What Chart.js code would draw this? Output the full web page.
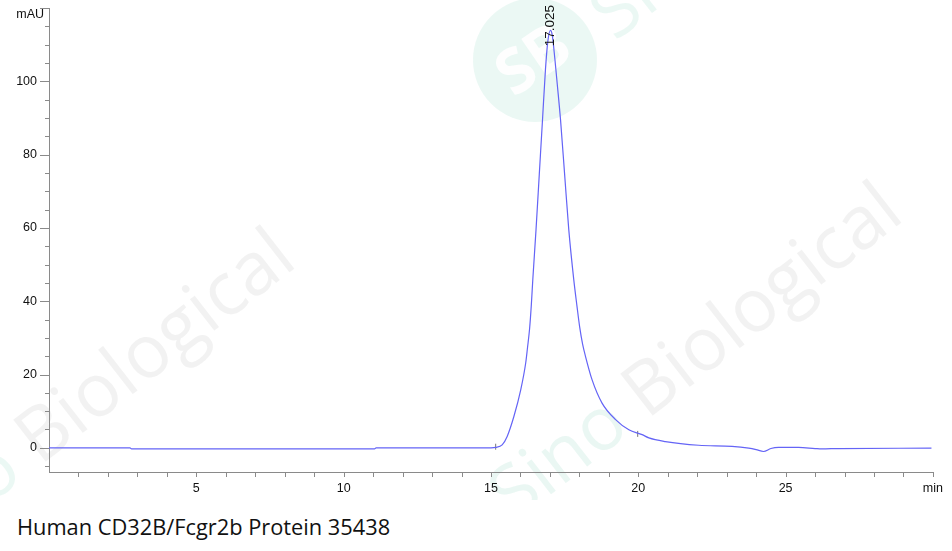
<!DOCTYPE html>
<html>
<head>
<meta charset="utf-8">
<script src="https://cdn.jsdelivr.net/npm/chart.js@4/dist/chart.umd.min.js"></script>
<style>
  html, body { margin: 0; padding: 0; background: #fff; }
  #wrap { position: relative; width: 952px; height: 500px; }
  #title { position: absolute; left: 17px; top: 512px; font-family: "Open Sans", "Noto Sans", sans-serif; font-size: 21.8px; line-height: 30px; color: #111; white-space: nowrap; }
</style>
</head>
<body>
<div id="wrap"><canvas id="c" width="952" height="500"></canvas></div>
<div id="title">Human CD32B/Fcgr2b Protein 35438</div>
<script>
// Retention time (min)
const times = [0, 2.75, 2.8, 11.05, 11.1, 15.0, 15.16, 15.38, 15.55, 15.78, 16.01, 16.18, 16.24, 16.31, 16.37, 16.42, 16.53, 16.64, 16.75, 16.85, 16.93, 17.02, 17.08, 17.17, 17.25, 17.36, 17.50, 17.64, 17.81, 17.92, 18.01, 18.11, 18.21, 18.43, 18.77, 19.23, 19.68, 20.13, 20.36, 20.92, 22.05, 23.18, 23.75, 24.0, 24.25, 24.5, 24.76, 25.44, 26.0, 26.23, 26.8, 29.95];
// Absorbance (mAU)
const absorbance = [0, 0, -0.3, -0.3, 0, 0, 0.1, 0.8, 3.1, 8.6, 15.8, 23.2, 27.3, 32.4, 39.0, 45.9, 59.6, 74.6, 89.6, 103.3, 110.9, 113.9, 112.6, 106, 99.2, 89.6, 74.6, 59.6, 45.9, 38.6, 33.0, 28.3, 24.9, 18.6, 12.2, 7.7, 4.9, 3.6, 2.7, 1.7, 0.7, 0.4, -0.1, -0.5, -1.0, -0.2, 0.1, 0.1, -0.2, -0.3, -0.2, -0.1];
// Integration markers
const markerTimes = [15.16, 19.98];
const markerValues = [0.3, 3.8];
// Peak annotation
const peakTime = 17.025;
const peakValue = 113.9;
const peakLabel = "17.025";
// Axis labels
const yLabelValues = [0, 20, 40, 60, 80, 100];
const xLabelValues = [5, 10, 15, 20, 25];
const yUnit = "mAU";
const xUnit = "min";

const axisColor = "#8a8a8a";
const labelFont = { family: "Liberation Sans, Arial, sans-serif", size: 12.5 };

const watermark = {
  id: "watermark",
  beforeDraw(chart) {
    const ctx = chart.ctx;
    ctx.save();
    // SB logo circle
    ctx.fillStyle = "rgba(222,243,236,0.6)";
    ctx.beginPath(); ctx.arc(535, 60, 62, 0, Math.PI * 2); ctx.fill();
    ctx.save();
    ctx.translate(535, 62); ctx.rotate(-0.6);
    ctx.fillStyle = "rgba(255,255,255,0.95)";
    ctx.font = "bold 62px 'Open Sans', sans-serif";
    ctx.textAlign = "center"; ctx.textBaseline = "middle";
    ctx.fillText("SB", 0, 0);
    ctx.restore();
    ctx.font = "74px 'Open Sans', sans-serif";
    ctx.textBaseline = "alphabetic";
    // Left watermark text
    ctx.save();
    ctx.translate(40, 466); ctx.rotate(-0.66);
    ctx.fillStyle = "rgba(222,243,236,0.6)";
    ctx.textAlign = "right";
    ctx.fillText("Sino ", 0, 0);
    ctx.textAlign = "left";
    ctx.fillStyle = "rgba(234,234,234,0.6)";
    ctx.fillText("Biological", 0, 0);
    ctx.restore();
    // Right watermark text
    ctx.save();
    ctx.translate(647, 420); ctx.rotate(-0.66);
    ctx.fillStyle = "rgba(222,243,236,0.65)";
    ctx.textAlign = "right";
    ctx.fillText("Sino ", 0, 0);
    ctx.textAlign = "left";
    ctx.fillStyle = "rgba(234,234,234,0.6)";
    ctx.fillText("Biological", 0, 0);
    ctx.restore();
    // Top right partial
    ctx.save();
    ctx.translate(615, 42); ctx.rotate(-0.66);
    ctx.fillStyle = "rgba(222,243,236,0.6)";
    ctx.fillText("Si", 0, 0);
    ctx.restore();
    ctx.restore();
  }
};

const extras = {
  id: "extras",
  afterDraw(chart) {
    const ctx = chart.ctx;
    const xs = chart.scales.x, ys = chart.scales.y;
    const area = chart.chartArea;
    ctx.save();
    ctx.strokeStyle = axisColor; ctx.lineWidth = 1;
    // y ticks
    ys.ticks.forEach(t => {
      const major = yLabelValues.includes(t.value) || t.value === 120;
      const len = major ? 9 : 4;
      const py = Math.round(ys.getPixelForValue(t.value)) + 0.5;
      ctx.beginPath(); ctx.moveTo(area.left - len, py); ctx.lineTo(area.left, py); ctx.stroke();
    });
    // x ticks
    xs.ticks.forEach(t => {
      if (t.value === 0) return;
      const px = Math.round(xs.getPixelForValue(t.value)) + 0.5;
      ctx.beginPath(); ctx.moveTo(px, area.bottom); ctx.lineTo(px, area.bottom + 5); ctx.stroke();
    });
    // unit label
    ctx.fillStyle = "#111";
    ctx.font = "12.5px Liberation Sans, Arial, sans-serif";
    ctx.textAlign = "right"; ctx.textBaseline = "middle";
    ctx.fillText(yUnit, area.left - 5, area.top + 7);
    // peak label
    const px = xs.getPixelForValue(peakTime);
    const py = ys.getPixelForValue(peakValue);
    ctx.save();
    ctx.font = "13.5px Liberation Sans, Arial, sans-serif";
    ctx.translate(px, py + 16);
    ctx.rotate(-Math.PI / 2);
    ctx.textAlign = "left"; ctx.textBaseline = "middle";
    ctx.fillStyle = "#111";
    ctx.fillText(peakLabel, 0, 0);
    ctx.restore();
    ctx.restore();
  }
};

new Chart(document.getElementById("c"), {
  type: "scatter",
  data: {
    datasets: [
      {
        data: times.map((t, i) => ({ x: t, y: absorbance[i] })),
        showLine: true,
        borderColor: "#6464f6",
        borderWidth: 1.2,
        pointRadius: 0,
        cubicInterpolationMode: "monotone",
        fill: false
      },
      {
        data: markerTimes.map((t, i) => ({ x: t, y: markerValues[i] })),
        showLine: false,
        pointStyle: "line",
        rotation: 90,
        pointRadius: 3,
        borderColor: "#777",
        borderWidth: 1
      }
    ]
  },
  options: {
    responsive: false,
    animation: false,
    events: [],
    layout: { padding: { left: 0, right: 19, top: 8, bottom: 0 } },
    plugins: { legend: { display: false }, tooltip: { enabled: false } },
    scales: {
      x: {
        type: "linear",
        min: 0, max: 30,
        ticks: {
          stepSize: 1,
          autoSkip: false,
          maxRotation: 0,
          padding: 9,
          color: "#111",
          font: labelFont,
          callback: v => (v === 30 ? xUnit : (xLabelValues.includes(v) ? String(v) : ""))
        },
        grid: { drawOnChartArea: false, drawTicks: false, color: axisColor },
        border: { color: axisColor, width: 1 },
        afterFit: s => { s.height = 28; }
      },
      y: {
        type: "linear",
        min: -6.6, max: 120,
        ticks: {
          stepSize: 5,
          includeBounds: false,
          autoSkip: false,
          padding: 12,
          color: "#111",
          font: labelFont,
          callback: v => (yLabelValues.includes(v) ? String(v) : "")
        },
        grid: { drawOnChartArea: false, drawTicks: false, color: axisColor },
        border: { color: axisColor, width: 1 },
        afterFit: s => { s.width = 49; s.paddingTop = 0; s.paddingBottom = 0; }
      }
    }
  },
  plugins: [watermark, extras]
});
</script>
</body>
</html>
